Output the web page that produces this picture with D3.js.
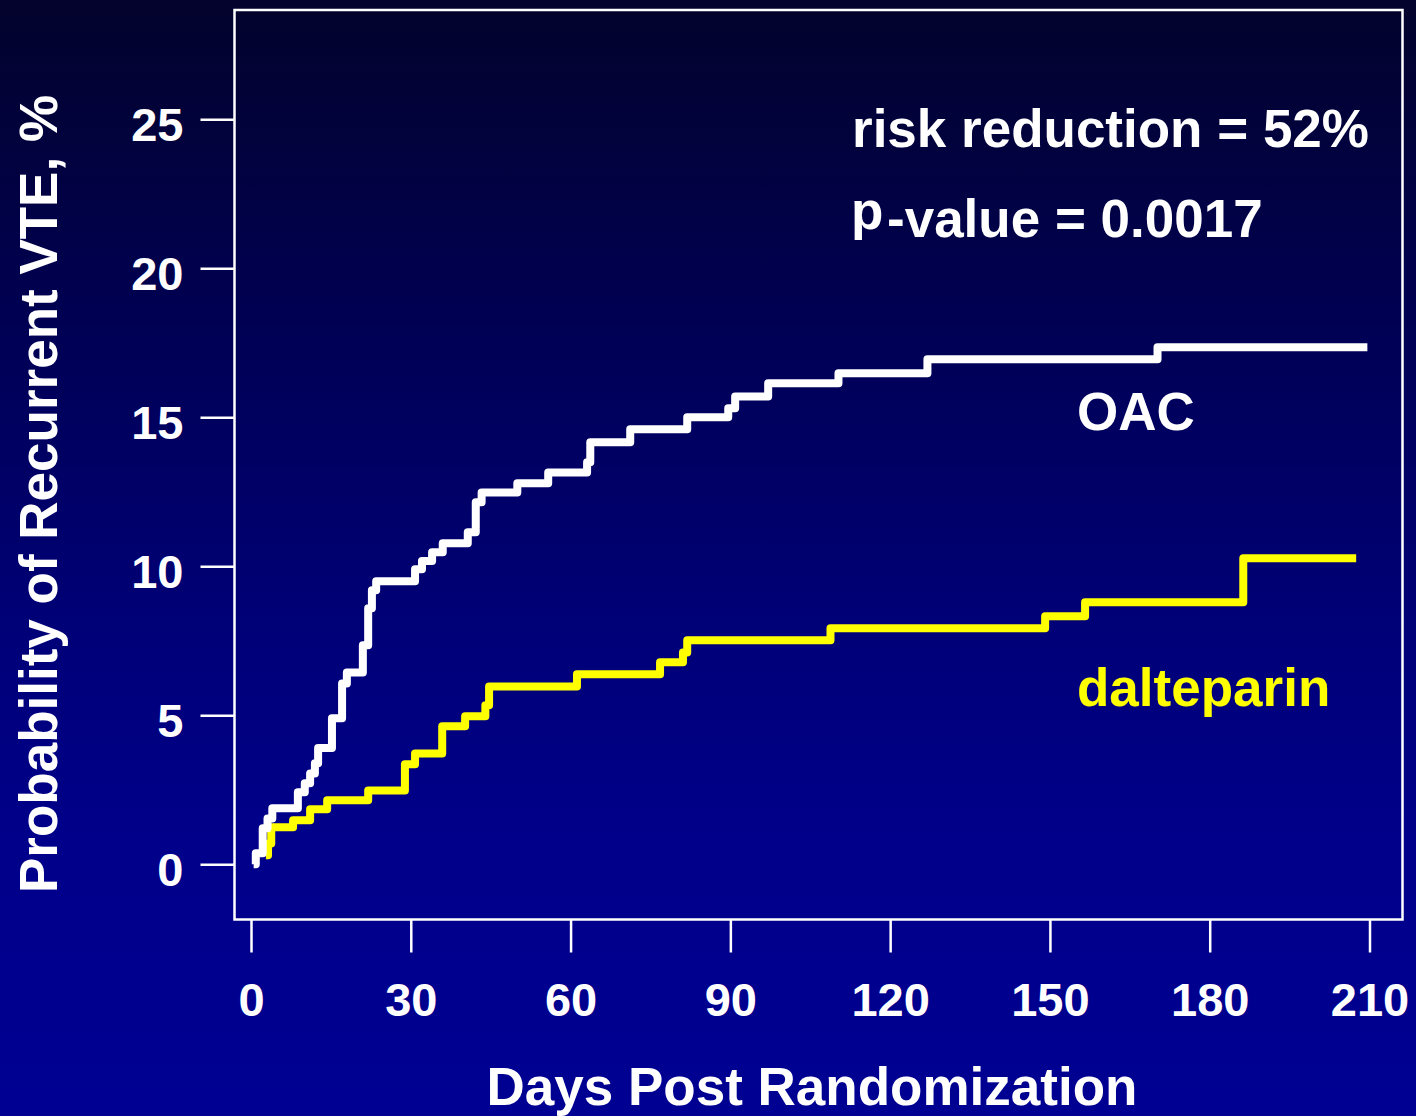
<!DOCTYPE html>
<html>
<head>
<meta charset="utf-8">
<script src="https://cdn.jsdelivr.net/npm/d3@7"></script>
<style>
	html, body { margin: 0; padding: 0; background: #000070; }
	svg { display: block; }
	text { font-family: "Liberation Sans", Arial, sans-serif; font-weight: bold; fill: #fff; }
</style>
</head>
<body>
<script>
(function() {

	// chart data
	var yTicks = [0, 5, 10, 15, 20, 25];
	var xTicks = [0, 30, 60, 90, 120, 150, 180, 210];

	// OAC (white) step curve: event days and cumulative probability, %
	var oacDays = [0.5, 0.9, 2.2, 3.1, 4.0, 8.8, 10.1, 11.1, 12.0, 12.6, 15.2, 17.1, 18.0, 21.0, 22.0, 22.7, 23.5, 30.8, 32.1, 34.0, 36.0, 40.7, 42.2, 43.3, 50.0, 55.8, 63.1, 63.7, 71.2, 81.9, 89.6, 90.9, 97.1, 110.3, 127.0, 170.2, 209.6];
	var oacValues = [0, 0.37, 1.21, 1.54, 1.88, 2.42, 2.72, 3.05, 3.39, 3.9, 4.9, 6.07, 6.44, 7.35, 8.59, 9.2, 9.5, 9.9, 10.18, 10.47, 10.77, 11.14, 12.15, 12.48, 12.79, 13.15, 13.49, 14.16, 14.6, 15.0, 15.3, 15.7, 16.14, 16.48, 16.95, 17.35, 17.35];

	// dalteparin (yellow) step curve
	var dalDays = [2.8, 3.2, 3.8, 7.9, 11.1, 14.3, 22.0, 28.9, 30.8, 35.9, 40.2, 44.0, 44.7, 61.2, 76.8, 81.1, 81.9, 108.8, 149.1, 156.6, 186.3, 207.5];
	var dalValues = [0.3, 0.7, 1.24, 1.48, 1.85, 2.15, 2.48, 3.36, 3.72, 4.63, 4.97, 5.34, 5.97, 6.38, 6.78, 7.11, 7.52, 7.92, 8.32, 8.79, 10.27, 10.27];

	var width = 1416;
	var height = 1116;

	var svg = d3.select("body")
		.append("svg")
		.attr("width", width)
		.attr("height", height);

	// background: dark navy at the top fading to blue
	var grad = svg.append("defs")
		.append("linearGradient")
		.attr("id", "bg")
		.attr("x1", 0).attr("y1", 0)
		.attr("x2", 0).attr("y2", 1);
	[[0, "#03032c"], [0.28, "#000052"], [0.55, "#000076"], [0.75, "#00008a"], [1, "#000092"]].forEach(function(s) {
		grad.append("stop").attr("offset", s[0]).attr("stop-color", s[1]);
	});
	svg.append("rect")
		.attr("width", width)
		.attr("height", height)
		.attr("fill", "url(#bg)");

	// scales
	var x = d3.scaleLinear()
		.domain([0, 210])
		.range([251, 1369.5]);

	var y = d3.scaleLinear()
		.domain([0, 25])
		.range([864.3, 119.3]);

	// plot frame
	var box = { left: 234.5, top: 10, right: 1402.5, bottom: 919.5 };
	svg.append("rect")
		.attr("x", box.left)
		.attr("y", box.top)
		.attr("width", box.right - box.left)
		.attr("height", box.bottom - box.top)
		.attr("fill", "none")
		.attr("stroke", "#fff")
		.attr("stroke-width", 2.5);

	// y axis
	var yAxis = d3.axisLeft(y)
		.tickValues(yTicks)
		.tickSize(34)
		.tickPadding(17);

	var gy = svg.append("g")
		.attr("class", "y axis")
		.attr("transform", "translate(" + box.left + ",0)")
		.call(yAxis);

	// x axis
	var xAxis = d3.axisBottom(x)
		.tickValues(xTicks)
		.tickSize(33)
		.tickPadding(30);

	var gx = svg.append("g")
		.attr("class", "x axis")
		.attr("transform", "translate(0," + box.bottom + ")")
		.call(xAxis);

	[gx, gy].forEach(function(g) {
		g.select(".domain").remove();
		g.selectAll(".tick line").attr("stroke", "#fff").attr("stroke-width", 2.5);
		g.selectAll(".tick text")
			.attr("fill", "#fff")
			.style("font-size", "47px")
			.style("font-family", "\"Liberation Sans\", Arial, sans-serif")
			.style("font-weight", "bold");
	});
	gy.selectAll(".tick text").attr("dy", "0.45em");

	// axis titles
	svg.append("text")
		.attr("transform", "translate(57,494) rotate(-90)")
		.attr("text-anchor", "middle")
		.style("font-size", "53px")
		.text("Probability of Recurrent VTE, %");

	svg.append("text")
		.attr("x", 812)
		.attr("y", 1105)
		.attr("text-anchor", "middle")
		.style("font-size", "53px")
		.text("Days Post Randomization");

	// step curves
	var line = d3.line()
		.x(function(d) { return x(d.day); })
		.y(function(d) { return y(d.value); })
		.curve(d3.curveStepAfter);

	function series(days, values) {
		return days.map(function(d, i) { return { day: d, value: values[i] }; });
	}

	svg.append("path")
		.datum(series(dalDays, dalValues))
		.attr("fill", "none")
		.attr("stroke", "#ffff00")
		.attr("stroke-width", 8)
		.attr("stroke-linejoin", "round")
		.attr("d", line);

	svg.append("path")
		.datum(series(oacDays, oacValues))
		.attr("fill", "none")
		.attr("stroke", "#fff")
		.attr("stroke-width", 8)
		.attr("stroke-linejoin", "round")
		.attr("d", line);

	// annotations
	svg.append("text")
		.attr("x", 852)
		.attr("y", 147)
		.style("font-size", "53px")
		.text("risk reduction = 52%");

	svg.append("text")
		.attr("x", 851)
		.attr("y", 229)
		.style("font-size", "53px")
		.text("p");

	svg.append("text")
		.attr("x", 887)
		.attr("y", 237)
		.style("font-size", "53px")
		.text("-value = 0.0017");

	svg.append("text")
		.attr("x", 1077)
		.attr("y", 430)
		.style("font-size", "53px")
		.text("OAC");

	svg.append("text")
		.attr("x", 1077)
		.attr("y", 706)
		.style("font-size", "53px")
		.style("fill", "#ffff00")
		.text("dalteparin");

})();
</script>
</body>
</html>
